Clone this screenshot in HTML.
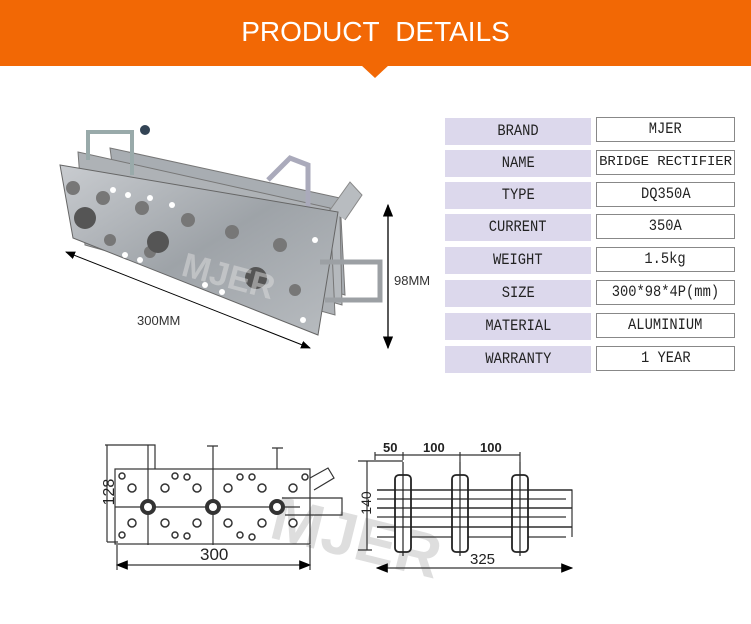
<!DOCTYPE html>
<html><head><meta charset="utf-8"><style>
body{margin:0;width:751px;height:624px;background:#fff;position:relative;overflow:hidden;font-family:"Liberation Sans",sans-serif}
.hdr{position:absolute;left:0;top:0;width:751px;height:66px;background:#f26805}
.hdr span{position:absolute;left:0;width:751px;top:16px;text-align:center;color:#fff;font-size:28px}
.notch{position:absolute;left:361px;top:65px;width:0;height:0;border-left:14px solid transparent;border-right:14px solid transparent;border-top:13px solid #f26805}
.l,.v{position:absolute;font-family:"Liberation Mono",monospace;font-size:16px;text-align:center;color:#222;white-space:nowrap}
.l{left:445px;width:146px;height:27px;background:#dcd8ec;line-height:27px}
.v{left:596px;width:137px;height:23px;border:1.5px solid #888;line-height:23px;overflow:hidden}
.l span,.v span{display:inline-block;transform:scaleX(0.86)}
</style></head><body>
<div class="hdr"><span>PRODUCT&nbsp; DETAILS</span></div>
<div class="notch"></div>

<div class="l" style="top:118px"><span>BRAND</span></div><div class="v" style="top:117px"><span>MJER</span></div>
<div class="l" style="top:150px"><span>NAME</span></div><div class="v" style="top:150px;font-size:14px;letter-spacing:-0.1px">BRIDGE RECTIFIER</div>
<div class="l" style="top:182px"><span>TYPE</span></div><div class="v" style="top:182px"><span>DQ350A</span></div>
<div class="l" style="top:214px"><span>CURRENT</span></div><div class="v" style="top:214px"><span>350A</span></div>
<div class="l" style="top:247px"><span>WEIGHT</span></div><div class="v" style="top:247px"><span>1.5kg</span></div>
<div class="l" style="top:280px"><span>SIZE</span></div><div class="v" style="top:280px"><span>300*98*4P(mm)</span></div>
<div class="l" style="top:313px"><span>MATERIAL</span></div><div class="v" style="top:313px"><span>ALUMINIUM</span></div>
<div class="l" style="top:346px"><span>WARRANTY</span></div><div class="v" style="top:346px"><span>1 YEAR</span></div>

<svg width="751" height="624" style="position:absolute;left:0;top:0" xmlns="http://www.w3.org/2000/svg">
<defs><linearGradient id="g" x1="0" y1="0" x2="1" y2="1"><stop offset="0" stop-color="#c9ccd0"/><stop offset="0.5" stop-color="#9ea3a8"/><stop offset="1" stop-color="#b8bcc0"/></linearGradient>
<marker id="a" markerWidth="10" markerHeight="8" refX="9" refY="4" orient="auto"><path d="M0,0 L10,4 L0,8z" fill="#000"/></marker>
<marker id="b" markerWidth="10" markerHeight="8" refX="1" refY="4" orient="auto"><path d="M10,0 L0,4 L10,8z" fill="#000"/></marker></defs>
<polygon points="110,148 340,198 345,295 120,225" fill="#a8adb2" stroke="#777"/>
<polygon points="95,160 340,215 342,305 100,235" fill="#b5b9bd" stroke="#777"/>
<polygon points="78,152 330,208 335,315 85,245" fill="#aeb2b6" stroke="#777"/>
<path d="M88,160 V132 H132 V175" fill="none" stroke="#9aa" stroke-width="4"/>
<path d="M268,180 L290,158 L308,165 L308,215" fill="none" stroke="#aab" stroke-width="5"/>
<path d="M330,210 L350,182 L362,195 L345,220" fill="#b8bcc0" stroke="#888"/>
<circle cx="145" cy="130" r="5" fill="#345"/>
<polygon points="60,165 338,212 318,335 73,238" fill="url(#g)" stroke="#666"/>
<path d="M320,262 H380 V300 H325" fill="none" stroke="#9ca0a4" stroke-width="5"/>
<g fill="#777"><circle cx="73" cy="188" r="7"/><circle cx="103" cy="198" r="7"/><circle cx="142" cy="208" r="7"/><circle cx="188" cy="220" r="7"/><circle cx="232" cy="232" r="7"/><circle cx="280" cy="245" r="7"/><circle cx="110" cy="240" r="6"/><circle cx="150" cy="252" r="6"/><circle cx="295" cy="290" r="6"/></g>
<g fill="#555"><circle cx="85" cy="218" r="11"/><circle cx="158" cy="242" r="11"/><circle cx="256" cy="278" r="11"/></g>
<g fill="#fff"><circle cx="113" cy="190" r="3"/><circle cx="128" cy="195" r="3"/><circle cx="150" cy="198" r="3"/><circle cx="172" cy="205" r="3"/><circle cx="125" cy="255" r="3"/><circle cx="140" cy="260" r="3"/><circle cx="205" cy="285" r="3"/><circle cx="222" cy="292" r="3"/><circle cx="303" cy="320" r="3"/><circle cx="315" cy="240" r="3"/></g>
<text x="180" y="275" font-size="34" font-weight="bold" fill="#ddd" fill-opacity="0.5" transform="rotate(15 180 275)">MJER</text>
<line x1="66" y1="252" x2="310" y2="348" stroke="#000" marker-end="url(#a)" marker-start="url(#b)"/>
<text x="137" y="325" font-size="13" fill="#333">300MM</text>
<line x1="388" y1="205" x2="388" y2="348" stroke="#000" stroke-width="1.3" marker-end="url(#a)" marker-start="url(#b)"/>
<text x="394" y="285" font-size="13" fill="#333">98MM</text>

<text x="268" y="545" font-size="62" font-weight="bold" fill="#c8c8c8" fill-opacity="0.6" transform="rotate(14 300 540)">MJER</text>

<g stroke="#333" fill="none" stroke-width="1.2">
<rect x="115" y="469" width="195" height="75"/>
<path d="M105,445 H155 V469 M207,446 H218 M213,446 V545 M272,448 H283 M277,448 V469 M107,445 V542 M107,542 H118 M148,445 V545"/>
<path d="M115,507 H300"/>
<path d="M310,478 L328,468 L334,478 L314,490"/>
<path d="M282,498 H342 V515 H285"/>
<line x1="117" y1="565" x2="310" y2="565" marker-end="url(#a)" marker-start="url(#b)"/>
<line x1="117" y1="545" x2="117" y2="570"/><line x1="310" y1="545" x2="310" y2="570"/>
</g>
<g fill="#333"><circle cx="148" cy="507" r="8"/><circle cx="213" cy="507" r="8"/><circle cx="277" cy="507" r="8"/></g>
<g fill="#fff"><circle cx="148" cy="507" r="4"/><circle cx="213" cy="507" r="4"/><circle cx="277" cy="507" r="4"/></g>
<g fill="#fff" stroke="#333" stroke-width="1.5">
<circle cx="132" cy="488" r="4"/><circle cx="165" cy="488" r="4"/><circle cx="197" cy="488" r="4"/><circle cx="228" cy="488" r="4"/><circle cx="262" cy="488" r="4"/><circle cx="293" cy="488" r="4"/>
<circle cx="132" cy="523" r="4"/><circle cx="165" cy="523" r="4"/><circle cx="197" cy="523" r="4"/><circle cx="228" cy="523" r="4"/><circle cx="262" cy="523" r="4"/><circle cx="293" cy="523" r="4"/>
<circle cx="122" cy="476" r="3"/><circle cx="175" cy="476" r="3"/><circle cx="187" cy="477" r="3"/><circle cx="240" cy="477" r="3"/><circle cx="252" cy="477" r="3"/><circle cx="305" cy="477" r="3"/>
<circle cx="122" cy="535" r="3"/><circle cx="175" cy="535" r="3"/><circle cx="187" cy="536" r="3"/><circle cx="240" cy="535" r="3"/><circle cx="252" cy="537" r="3"/></g>
<text x="100" y="506" font-size="16" fill="#222" text-anchor="middle" transform="rotate(-90 100 492)">128</text>
<text x="200" y="560" font-size="17" fill="#222">300</text>

<g stroke="#333" fill="none" stroke-width="1.2">
<path d="M358,461 H403 M367,461 V550 M358,550 H372"/>
<line x1="375" y1="455" x2="520" y2="455"/>
<path d="M375,452 V460 M403,452 V460 M460,452 V462 M520,452 V462"/>
<path d="M377,490 H572 V537 M377,499 H566 M377,508 H572 M377,517 H566 M377,527 H572 M377,537 H566"/>
<line x1="377" y1="568" x2="572" y2="568" marker-end="url(#a)" marker-start="url(#b)"/>
</g>
<g stroke="#222" stroke-width="1.8" fill="#fff">
<rect x="395" y="475" width="16" height="77" rx="4"/><rect x="452" y="475" width="16" height="77" rx="4"/><rect x="512" y="475" width="16" height="77" rx="4"/>
</g>
<g stroke="#222" stroke-width="1.2" fill="none">
<path d="M403,462 V556 M460,462 V556 M520,462 V556 M377,490 H572 M377,508 H572 M377,527 H572 M395,499 H411 M395,517 H411 M452,499 H468 M452,517 H468 M512,499 H528 M512,517 H528"/>
</g>
<text x="383" y="452" font-size="13" fill="#222" font-weight="bold">50</text>
<text x="423" y="452" font-size="13" fill="#222" font-weight="bold">100</text>
<text x="480" y="452" font-size="13" fill="#222" font-weight="bold">100</text>
<text x="366" y="508" font-size="14" fill="#222" text-anchor="middle" transform="rotate(-90 366 503)">140</text>
<text x="470" y="564" font-size="15" fill="#222">325</text>
</svg>
</body></html>
